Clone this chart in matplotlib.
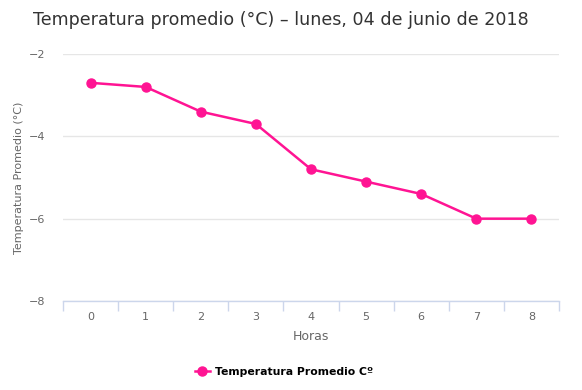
import matplotlib.pyplot as plt
from matplotlib.lines import Line2D

horas = [0, 1, 2, 3, 4, 5, 6, 7, 8]
temperatura = [-2.7, -2.8, -3.4, -3.7, -4.8, -5.1, -5.4, -6.0, -6.0]
yticks = [-8, -6, -4, -2]

rosa = '#ff1493'
gris = '#666666'
eje = '#ccd6eb'

fig = plt.figure(figsize=(5.82, 3.9), dpi=100)
ax = fig.add_axes([63/582, 1 - 301/390, (559 - 63)/582, (301 - 54)/390])

ax.plot(horas, temperatura, color=rosa, lw=1.8, marker='o', ms=6.5, zorder=3)

ax.set_xlim(-0.5, 8.5)
ax.set_ylim(-8, -2)
ax.set_yticks(yticks)
ax.set_yticklabels(['\u22128', '\u22126', '\u22124', '\u22122'])
ax.set_xticks(horas)
ax.set_xticks([h - 0.5 for h in horas] + [8.5], minor=True)

ax.grid(axis='y', color='#e6e6e6', lw=1)
ax.set_axisbelow(True)
for s in ['top', 'right', 'left']:
    ax.spines[s].set_visible(False)
ax.spines['bottom'].set_color(eje)
ax.spines['bottom'].set_linewidth(1)

ax.tick_params(axis='y', length=0, labelsize=8, labelcolor=gris, pad=13)
ax.tick_params(axis='x', which='major', length=0, labelsize=8, labelcolor=gris, pad=8)
ax.tick_params(axis='x', which='minor', length=7.5, color=eje, width=1)

ax.set_xlabel('Horas', fontsize=9, color=gris, labelpad=6)
ax.set_ylabel('Temperatura Promedio (°C)', fontsize=8, color=gris, labelpad=3)

fig.text(33/582, 1 - 20/390, 'Temperatura promedio (°C) – lunes, 04 de junio de 2018',
         fontsize=12.6, color='#333333', va='center', ha='left')

h = Line2D([], [], color=rosa, lw=1.8, marker='o', ms=6.5)
fig.legend([h], ['Temperatura Promedio Cº'], loc='center', bbox_to_anchor=(284/582, 1 - 372/390),
           frameon=False, prop={'weight': 'bold', 'size': 7.8}, handlelength=1.4, handletextpad=0.5)

fig.savefig('out.png', dpi=100)
